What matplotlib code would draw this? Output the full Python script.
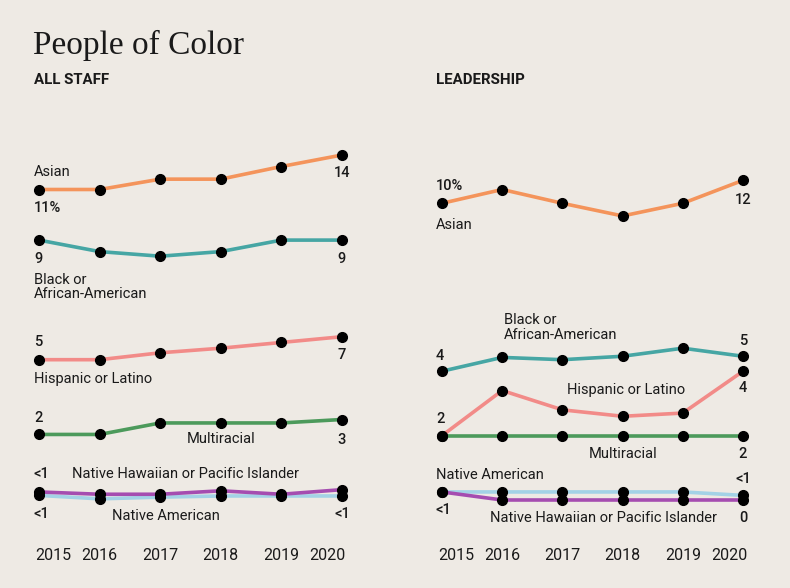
import numpy as np
import matplotlib.pyplot as plt

plt.rcParams['font.family'] = ['Roboto', 'DejaVu Sans']

years = [2015, 2016, 2017, 2018, 2019, 2020]
groups = ['Asian', 'Black', 'Hispanic', 'Multiracial', 'NHPI', 'Native']

# percent of all staff
asian_all = [11.0, 11.0, 11.9, 11.9, 13.0, 14.0]
black_all = [9.0, 8.0, 7.6, 8.0, 9.0, 9.0]
hispanic_all = [5.0, 5.0, 5.6, 6.0, 6.5, 7.0]
multi_all = [2.0, 2.0, 3.0, 3.0, 3.0, 3.3]
nhpi_all = [0.7, 0.5, 0.5, 0.8, 0.5, 0.9]
native_all = [0.4, 0.1, 0.25, 0.35, 0.35, 0.35]
start_lbl_all = ['11%', '9', '5', '2', '<1', '<1']
end_lbl_all = ['14', '9', '7', '3', None, '<1']

# percent of leadership
asian_lead = [10.0, 11.2, 10.0, 8.9, 10.0, 12.0]
black_lead = [4.0, 5.2, 5.0, 5.3, 6.0, 5.3]
hispanic_lead = [2.0, 3.4, 2.8, 2.6, 2.7, 4.0]
multi_lead = [2.0, 2.0, 2.0, 2.0, 2.0, 2.0]
nhpi_lead = [0.7, 0.0, 0.0, 0.0, 0.0, 0.0]
native_lead = [0.7, 0.7, 0.7, 0.7, 0.7, 0.4]
start_lbl_lead = ['10%', '4', '2', None, '<1', None]
end_lbl_lead = ['12', '5', '4', '2', '0', '<1']

colors = ['#f4945b', '#46a6a4', '#f28b88', '#4c9a5b', '#a54db0', '#a3d2e6']
# vertical offsets so every series gets its own band (layout only)
offsets_all = [16.0, 13.6, 7.2, 3.7, 0.0, 0.0]
offsets_lead = [15.8, 7.2, 0.0, 3.6, 0.0, 0.0]
gains_lead = [1, 1, 2.8, 1, 1, 1]

BG = '#eeeae4'
INK = '#1a1a1a'
W, H = 790, 588

fig = plt.figure(figsize=(7.9, 5.88), dpi=100, facecolor=BG)


def make_axes(x0, x1):
    ax = fig.add_axes([x0 / W, 1 - 520 / H, (x1 - x0) / W, 420 / H])
    ax.set_facecolor(BG)
    ax.set_xlim(2015, 2020)
    ax.set_ylim(-20 / 11.5, 400 / 11.5)
    ax.axis('off')
    # year labels; first and last hug the ends of the lines
    for k, yr in enumerate(years):
        ha, dx = 'center', 0
        if k == 0:
            ha, dx = 'left', -4
        elif k == len(years) - 1:
            ha, dx = 'right', 4
        ax.annotate(str(yr), xy=(yr, 0), xycoords=('data', 'axes fraction'),
                    xytext=(dx, -35), textcoords='offset pixels', ha=ha, va='center',
                    fontsize=11.5, color=INK, annotation_clip=False)
    return ax


def draw(ax, data, offsets, gains):
    pos = [np.array(data[i]) * gains[i] + offsets[i] for i in range(6)]
    order = [0, 1, 2, 3, 5, 4]
    for i in order:
        ax.plot(years, pos[i], color=colors[i], lw=2.6, zorder=2,
                solid_capstyle='round', clip_on=False)
    for i in order:
        ax.plot(years, pos[i], 'o', color='black', ms=7, zorder=3, clip_on=False)
    return pos


def label(ax, x, y, text, dx, dy, ha='center', weight='normal', size=10.5):
    ax.annotate(text, xy=(x, y), xytext=(dx, dy), textcoords='offset pixels',
                ha=ha, va='center', fontsize=size, color=INK, fontweight=weight,
                linespacing=1.05, annotation_clip=False)


NUM = 'medium'

# ---- left panel
axl = make_axes(39, 342)
pl = draw(axl, [asian_all, black_all, hispanic_all, multi_all, nhpi_all, native_all],
          offsets_all, [1] * 6)

start_dy = [-18, -19, 18, 16, 18, -19]
for i, t in enumerate(start_lbl_all):
    if t:
        label(axl, 2015, pl[i][0], t, -5, start_dy[i], ha='left', weight=NUM)
end_dy = [-18, -19, -18, -21, 0, -18]
for i, t in enumerate(end_lbl_all):
    if t:
        label(axl, 2020, pl[i][-1], t, 0, end_dy[i], weight=NUM)

label(axl, 2015, pl[0][0], 'Asian', -5, 18, ha='left')
label(axl, 2015, pl[1][0], 'Black or\nAfrican-American', -5, -47, ha='left')
label(axl, 2015, pl[2][0], 'Hispanic or Latino', -5, -19, ha='left')
label(axl, 2018, pl[3][3], 'Multiracial', 0, -16)
label(axl, 2015, pl[4][0], 'Native Hawaiian or Pacific Islander', 33, 18, ha='left')
label(axl, 2017, pl[5][2], 'Native American', 6, -19)

# ---- right panel
axr = make_axes(442, 743)
pr = draw(axr, [asian_lead, black_lead, hispanic_lead, multi_lead, nhpi_lead, native_lead],
          offsets_lead, gains_lead)

start_dy = [17, 15, 17, 0, -18, 0]
for i, t in enumerate(start_lbl_lead):
    if t:
        label(axr, 2015, pr[i][0], t, -6, start_dy[i], ha='left', weight=NUM)
end_dy = [-20, 15, -17, -18, -18, 16]
for i, t in enumerate(end_lbl_lead):
    if t:
        label(axr, 2020, pr[i][-1], t, 0, end_dy[i], weight=NUM)

label(axr, 2015, pr[0][0], 'Asian', -6, -22, ha='left')
label(axr, 2016, pr[1][1], 'Black or\nAfrican-American', 2, 30, ha='left')
label(axr, 2018, pr[2][3], 'Hispanic or Latino', 3, 26)
label(axr, 2018, pr[3][3], 'Multiracial', 0, -18)
label(axr, 2015, pr[5][0], 'Native American', -6, 17, ha='left')
label(axr, 2018, pr[4][3], 'Native Hawaiian or Pacific Islander', -19, -18)

# titles
fig.text(33 / W, 1 - 45 / H, 'People of Color', fontsize=24, family='Liberation Serif',
         color=INK, va='center', ha='left')
fig.text(34 / W, 1 - 80 / H, 'ALL STAFF', fontsize=10.8, fontweight='bold', color=INK,
         va='center', ha='left')
fig.text(436 / W, 1 - 80 / H, 'LEADERSHIP', fontsize=10.8, fontweight='bold', color=INK,
         va='center', ha='left')

fig.savefig('out.png', dpi=100, facecolor=BG)
